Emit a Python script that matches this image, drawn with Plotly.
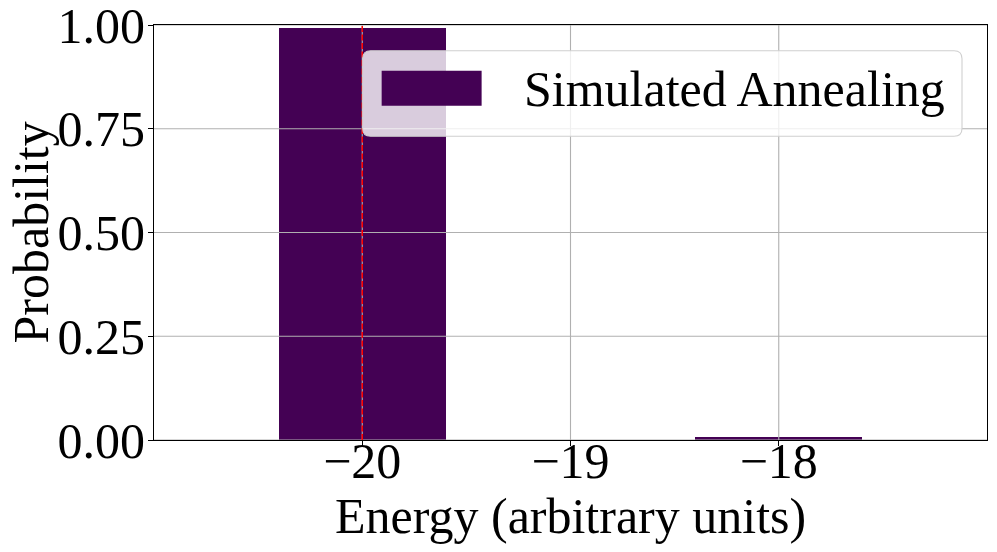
import plotly.graph_objects as go

# ---- data ----
energies = [-20, -18]
probabilities = [0.993, 0.007]
series_name = "Simulated Annealing"
ground_energy = -20
x_ticks = [-20, -19, -18]
x_tick_labels = ["\u221220", "\u221219", "\u221218"]
y_ticks = [0.0, 0.25, 0.5, 0.75, 1.0]
y_tick_labels = ["0.00", "0.25", "0.50", "0.75", "1.00"]
x_range = [-21, -17]
y_range = [0, 1]
x_title = "Energy (arbitrary units)"
y_title = "Probability"

BAR = "#440154"
FONT = "Liberation Serif, Times New Roman, serif"
GRID = "#b0b0b0"

fig = go.Figure()
fig.add_trace(go.Bar(x=energies, y=probabilities, width=0.8, name=series_name,
                     marker=dict(color=BAR, line=dict(width=0)), showlegend=False))

shapes = []
# grid lines drawn above bars (like matplotlib)
for t in x_ticks:
    shapes.append(dict(type="line", xref="x", yref="paper", x0=t, x1=t, y0=0, y1=1,
                       line=dict(color=GRID, width=1.1), layer="above"))
for t in y_ticks:
    shapes.append(dict(type="line", xref="paper", yref="y", x0=0, x1=1, y0=t, y1=t,
                       line=dict(color=GRID, width=1.1), layer="above"))
# reference line at ground energy
shapes.append(dict(type="line", xref="x", yref="paper", x0=ground_energy, x1=ground_energy,
                   y0=0, y1=1, line=dict(color="red", width=1.5, dash="6px,2.5px"), layer="above"))

# legend box (rounded)
lx0, lx1, ly0, ly1 = 0.2505, 0.970, 0.732, 0.938
rx, ry = 0.0096, 0.0193
path = (f"M {lx0+rx},{ly0} L {lx1-rx},{ly0} Q {lx1},{ly0} {lx1},{ly0+ry} "
        f"L {lx1},{ly1-ry} Q {lx1},{ly1} {lx1-rx},{ly1} L {lx0+rx},{ly1} "
        f"Q {lx0},{ly1} {lx0},{ly1-ry} L {lx0},{ly0+ry} Q {lx0},{ly0} {lx0+rx},{ly0} Z")
shapes.append(dict(type="path", xref="paper", yref="paper", path=path,
                   fillcolor="rgba(255,255,255,0.8)", line=dict(color="#d0d0d0", width=1.1),
                   layer="above"))
shapes.append(dict(type="rect", xref="paper", yref="paper", x0=0.2733, x1=0.3933,
                   y0=0.8054, y1=0.8898, fillcolor=BAR, line=dict(width=0), layer="above"))

annotations = [
    dict(text=series_name, xref="paper", yref="paper", x=0.4418, y=0.845,
         xanchor="left", yanchor="middle", showarrow=False,
         font=dict(family=FONT, size=50, color="black")),
    dict(text=x_title, xref="paper", yref="paper", x=0.5, y=-0.182,
         xanchor="center", yanchor="middle", showarrow=False,
         font=dict(family=FONT, size=50, color="black")),
    dict(text=y_title, xref="paper", yref="paper", x=-0.1477, y=0.5, textangle=-90,
         xanchor="center", yanchor="middle", showarrow=False,
         font=dict(family=FONT, size=50, color="black")),
]

axis_common = dict(showgrid=False, zeroline=False, showline=True, mirror=True,
                   linecolor="black", linewidth=1.1, ticks="outside", ticklen=5,
                   tickwidth=1.1, tickcolor="black", automargin=False,
                   ticklabeloverflow="allow",
                   tickfont=dict(family=FONT, size=50, color="black"))

fig.update_layout(
    width=997, height=552,
    margin=dict(l=154, r=10, t=25, b=112),
    paper_bgcolor="white", plot_bgcolor="white",
    shapes=shapes, annotations=annotations,
    xaxis=dict(range=x_range, tickvals=x_ticks, ticktext=x_tick_labels,
               ticklabelstandoff=-28, **axis_common),
    yaxis=dict(range=y_range, tickvals=y_ticks, ticktext=y_tick_labels,
               ticklabelstandoff=-7, **axis_common),
    bargap=0,
)

fig.write_html("out.html", config={"displayModeBar": False},
               post_script="document.body.style.margin='0';document.body.style.padding='0';")
